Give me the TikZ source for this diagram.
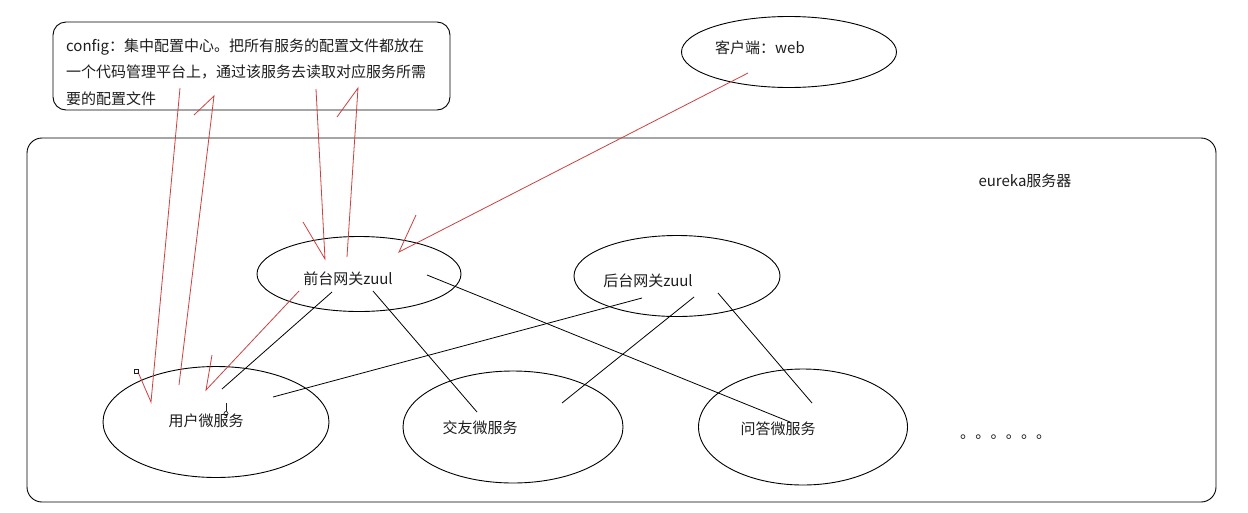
\documentclass[tikz,border=0pt]{standalone}
\usepackage{fontspec}
\setmainfont{Noto Sans CJK SC}
\usetikzlibrary{shapes.geometric}
\definecolor{redline}{RGB}{206,64,64}
\definecolor{ink}{RGB}{30,30,30}
\tikzset{
  ell/.style={draw=black, line width=0.9pt, ellipse, inner sep=0pt},
  lbl/.style={inner sep=0pt, text=ink, font=\fontsize{15}{18}\selectfont},
  conn/.style={draw=black, line width=0.8pt},
  redconn/.style={draw=redline, line width=0.8pt},
  roundbox/.style={draw=black, line width=0.9pt, rounded corners=13pt, inner sep=0pt}
}
\begin{document}
\begin{tikzpicture}[x=1pt,y=-1pt]
\useasboundingbox[fill=white] (0,0) rectangle (1248,512);
% eureka container
\node[roundbox, rounded corners=15pt, minimum width=1189pt, minimum height=364pt] (eu) at (621.5,320) {};
\node[lbl] (eut) at (1025,181) {eureka服务器};
% config box
\node[roundbox, minimum width=397pt, minimum height=88pt] (cfg) at (251.5,66) {};
\node[lbl, anchor=base west] (cfg1) at (66,51) {config：集中配置中心。把所有服务的配置文件都放在};
\node[lbl, anchor=base west] (cfg2) at (66,77.5) {一个代码管理平台上，通过该服务去读取对应服务所需};
\node[lbl, anchor=base west] (cfg3) at (66,104) {要的配置文件};
% client
\node[ell, minimum width=215pt, minimum height=71pt] (cl) at (789,52) {};
\node[lbl] (clt) at (760,48) {客户端：web};
% gateways
\node[ell, minimum width=204pt, minimum height=75pt] (fz) at (359,274) {};
\node[lbl] (fzt) at (348,279) {前台网关zuul};
\node[ell, minimum width=206pt, minimum height=81pt] (bz) at (677,276) {};
\node[lbl] (bzt) at (648,281) {后台网关zuul};
% services
\node[ell, minimum width=226pt, minimum height=111pt] (us) at (216,422) {};
\node[lbl] (ust) at (206,421) {用户微服务};
\node[ell, minimum width=220pt, minimum height=112pt] (jy) at (513,427) {};
\node[lbl] (jyt) at (480,428) {交友微服务};
\node[ell, minimum width=209pt, minimum height=116pt] (wd) at (803,427) {};
\node[lbl] (wdt) at (778,429) {问答微服务};
\node[lbl, anchor=base west, font=\fontsize{15.2}{18}\selectfont] (dots) at (960,438) {。。。。。。};
% black connectors
\draw[conn] ([shift={(-27,18)}]fz.center) -- ([shift={(6,-33)}]us.center);
\draw[conn] ([shift={(14,17)}]fz.center) -- ([shift={(-36,-15)}]jy.center);
\draw[conn] ([shift={(68,1)}]fz.center) -- ([shift={(-13,-5)}]wd.center);
\draw[conn] ([shift={(-35,22)}]bz.center) -- ([shift={(57,-25)}]us.center);
\draw[conn] ([shift={(17,21)}]bz.center) -- ([shift={(49,-24)}]jy.center);
\draw[conn] ([shift={(41,17)}]bz.center) -- ([shift={(9,-24)}]wd.center);
% red hand-drawn arrows
\draw[redconn] ([shift={(-71.5,22)}]cfg.center) -- ([shift={(-65,-20)}]us.center) -- ++(-13,-30);
\draw[redconn] ([shift={(-37,-37)}]us.center) -- ([shift={(-37.5,30)}]cfg.center) -- ++(-20,19);
\draw[redconn] ([shift={(-60,17)}]fz.center) -- ([shift={(-10,-32)}]us.center) -- ++(6,-35);
\draw[redconn] ([shift={(64.5,23)}]cfg.center) -- ([shift={(-34,-15)}]fz.center) -- ++(-22,-37);
\draw[redconn] ([shift={(-12,-17)}]fz.center) -- ([shift={(106.5,22)}]cfg.center) -- ++(-21,29);
\draw[redconn] ([shift={(-41,21)}]cl.center) -- ([shift={(40,-22)}]fz.center) -- ++(17,-37);
% small editor marks
\draw[line width=0.7pt, draw=ink] (134,369) rectangle (138,373);
\draw[line width=0.7pt, draw=ink] (226,403) -- (226,411);
\draw[line width=0.7pt, draw=ink] (226,413.5) circle (2);
\end{tikzpicture}
\end{document}
